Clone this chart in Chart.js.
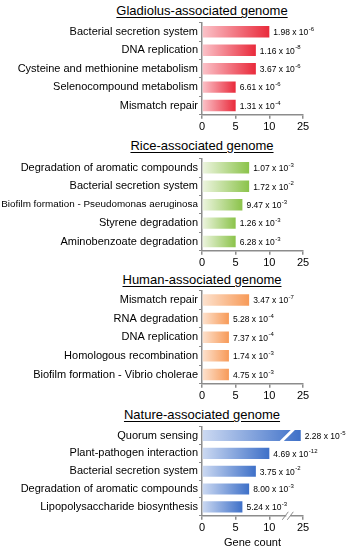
<!DOCTYPE html>
<html>
<head>
<meta charset="utf-8">
<script src="https://cdn.jsdelivr.net/npm/chart.js@4"></script>
<style>
  body { margin: 0; background: #fff; width: 348px; height: 550px; position: relative; overflow: hidden; }
  .titulo { position: absolute; left: 0; width: 404px; text-align: center; font: 13px "Liberation Sans", Arial, sans-serif; color: #000; text-decoration: underline; text-underline-offset: 2px; line-height: 15px; }
  canvas { position: absolute; left: 0; }
</style>
</head>
<body>
<div class="titulo" id="t0" style="top:3px">Gladiolus-associated genome</div>
<div class="titulo" id="t1" style="top:138px">Rice-associated genome</div>
<div class="titulo" id="t2" style="top:272px">Human-associated genome</div>
<div class="titulo" id="t3" style="top:407px">Nature-associated genome</div>
<canvas id="c0" width="348" height="121" style="top:15px"></canvas>
<canvas id="c1" width="348" height="121" style="top:151px"></canvas>
<canvas id="c2" width="348" height="122" style="top:283px"></canvas>
<canvas id="c3" width="348" height="129" style="top:419px"></canvas>
<script>
// datos
const gladiolusTerms = ["Bacterial secretion system", "DNA replication", "Cysteine and methionine metabolism", "Selenocompound metabolism", "Mismatch repair"];
const gladiolusCounts = [10, 8, 8, 5, 5];
const gladiolusP = ["1.98 x 10^-6", "1.16 x 10^-8", "3.67 x 10^-6", "6.61 x 10^-6", "1.31 x 10^-4"];

const riceTerms = ["Degradation of aromatic compounds", "Bacterial secretion system", "Biofilm formation - Pseudomonas aeruginosa", "Styrene degradation", "Aminobenzoate degradation"];
const riceCounts = [7, 7, 6, 5, 5];
const riceP = ["1.07 x 10^-3", "1.72 x 10^-2", "9.47 x 10^-3", "1.26 x 10^-3", "6.28 x 10^-3"];

const humanTerms = ["Mismatch repair", "RNA degradation", "DNA replication", "Homologous recombination", "Biofilm formation - Vibrio cholerae"];
const humanCounts = [7, 4, 4, 4, 4];
const humanP = ["3.47 x 10^-7", "5.28 x 10^-4", "7.37 x 10^-4", "1.74 x 10^-3", "4.75 x 10^-3"];

const natureTerms = ["Quorum sensing", "Plant-pathogen interaction", "Bacterial secretion system", "Degradation of aromatic compounds", "Lipopolysaccharide biosynthesis"];
const natureCounts = [24, 10, 8, 7, 6];
const natureP = ["2.28 x 10^-5", "4.69 x 10^-12", "3.75 x 10^-2", "8.00 x 10^-3", "5.24 x 10^-3"];

const xTicks = [0, 5, 10, 25];
const axisBreak = 18;

const fuente = '"Liberation Sans", Arial, sans-serif';
const gris = "#8c8c8c";

// eje cortado: sobre 10 se comprime x3
const toAxis = v => v <= 10 ? v : 10 + (v - 10) / 3;
const fromAxis = d => d <= 10 ? d : Math.round(10 + (d - 10) * 3);

// las etiquetas largas se achican para que quepan a la izquierda del eje
const medidor = document.createElement("canvas").getContext("2d");
const fuenteEtiqueta = c => {
    medidor.font = "11px " + fuente;
    const w = medidor.measureText(c.tick.label).width;
    return { family: fuente, size: w > 197 ? 11 * 197 / w : 11 };
};

const etiquetasP = {
    id: "etiquetasP",
    afterDatasetsDraw(chart, args, opts) {
        const ctx = chart.ctx;
        const meta = chart.getDatasetMeta(0);
        ctx.save();
        ctx.fillStyle = "#000";
        ctx.textBaseline = "middle";
        meta.data.forEach((bar, i) => {
            const [base, exp] = opts.valores[i].split("^");
            let x = bar.x + 4;
            ctx.font = "8.5px " + fuente;
            ctx.fillText(base, x, bar.y + 1);
            x += ctx.measureText(base).width + 0.5;
            ctx.font = "6px " + fuente;
            ctx.fillText(exp, x, bar.y - 2.5);
        });
        ctx.restore();
    }
};

const corte = {
    id: "corte",
    afterDraw(chart, args, opts) {
        if (!opts.activo) return;
        const ctx = chart.ctx;
        const xb = chart.scales.x.getPixelForValue(toAxis(axisBreak));
        const bar = chart.getDatasetMeta(0).data[0];
        const h = bar.height / 2;
        ctx.save();
        ctx.strokeStyle = "#fff";
        ctx.lineWidth = 3;
        ctx.beginPath();
        ctx.moveTo(xb - h - 1, bar.y + h + 1);
        ctx.lineTo(xb + h + 1, bar.y - h - 1);
        ctx.stroke();
        const yb = chart.chartArea.bottom;
        ctx.fillStyle = "#fff";
        ctx.fillRect(xb - 1, yb - 2, 4, 4);
        ctx.strokeStyle = gris;
        ctx.lineWidth = 1;
        [xb - 2, xb + 3].forEach(x => {
            ctx.beginPath();
            ctx.moveTo(x - 3, yb + 4);
            ctx.lineTo(x + 3, yb - 4);
            ctx.stroke();
        });
        ctx.restore();
    }
};

function dibujar(id, terms, counts, pvals, colores, ultimo) {
    return new Chart(document.getElementById(id), {
        type: "bar",
        data: {
            labels: terms,
            datasets: [{
                data: counts.map(toAxis),
                backgroundColor: c => {
                    const chart = c.chart;
                    if (!chart.chartArea) return colores[1];
                    const x = chart.scales.x;
                    const g = chart.ctx.createLinearGradient(x.getPixelForValue(0), 0, x.getPixelForValue(c.raw), 0);
                    g.addColorStop(0, colores[0]);
                    g.addColorStop(1, colores[1]);
                    return g;
                },
                barPercentage: 0.62,
                categoryPercentage: 1
            }]
        },
        options: {
            indexAxis: "y",
            responsive: false,
            animation: false,
            layout: { padding: { top: 0, right: 45, left: 0, bottom: 0 } },
            plugins: {
                legend: { display: false },
                tooltip: { enabled: false },
                etiquetasP: { valores: pvals },
                corte: { activo: ultimo }
            },
            scales: {
                x: {
                    min: 0,
                    max: 15,
                    afterBuildTicks: s => { s.ticks = xTicks.map(v => ({ value: toAxis(v) })); },
                    ticks: { callback: v => fromAxis(v), font: { family: fuente, size: 11 }, color: "#000", padding: 2, maxRotation: 0 },
                    grid: { drawOnChartArea: false, tickLength: 4, color: gris, lineWidth: 1.5 },
                    border: { color: gris, width: 1.5 },
                    title: { display: ultimo, text: "Gene count", font: { family: fuente, size: 11, lineHeight: 1 }, color: "#000", padding: { top: 0, bottom: 0 } }
                },
                y: {
                    afterFit: s => { s.width = 202; },
                    ticks: { font: fuenteEtiqueta, color: "#000", padding: 1 },
                    grid: { drawOnChartArea: false, tickLength: 3, color: gris, lineWidth: 1 },
                    border: { color: gris, width: 1.5 }
                }
            }
        },
        plugins: [etiquetasP, corte]
    });
}

dibujar("c0", gladiolusTerms, gladiolusCounts, gladiolusP, ["#fbc4ca", "#e92a3b"], false);
dibujar("c1", riceTerms, riceCounts, riceP, ["#eef5e1", "#8bc34a"], false);
dibujar("c2", humanTerms, humanCounts, humanP, ["#fde3d0", "#f79a58"], false);
dibujar("c3", natureTerms, natureCounts, natureP, ["#cddaf2", "#3e70c8"], true);
</script>
</body>
</html>
